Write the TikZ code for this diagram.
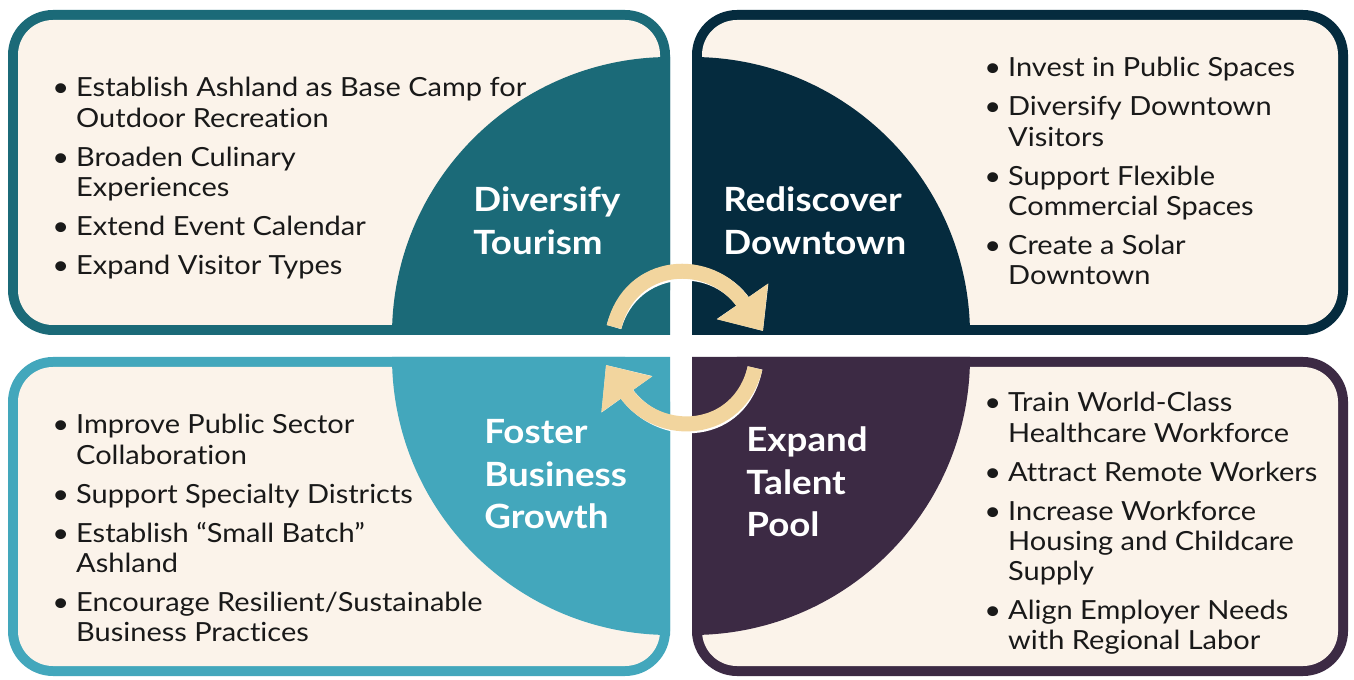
\documentclass[tikz,border=0pt]{standalone}
\usepackage{fontspec}
\setmainfont{Lato}[FakeStretch=1.1, Ligatures=NoCommon]
\usetikzlibrary{arrows.meta}
\definecolor{tourism}{RGB}{27,106,120}
\definecolor{downtown}{RGB}{5,43,62}
\definecolor{business}{RGB}{67,167,188}
\definecolor{talent}{RGB}{60,42,68}
\definecolor{cream}{RGB}{251,243,234}
\definecolor{loopc}{RGB}{242,213,158}
\definecolor{ink}{RGB}{25,25,25}
\newcommand{\ttl}[1]{\begin{tabular}[t]{@{}l@{}}#1\end{tabular}}
\newcommand{\lst}[1]{\begin{tabular}[t]{@{}l@{\hspace{4pt}}l@{}}#1\end{tabular}}
\begin{document}
\begin{tikzpicture}[x=0.02cm,y=0.02cm,
    title/.style = {anchor=base west, inner sep=0, text=white, font={\fontsize{19}{24}\selectfont\bfseries}},
    items/.style = {anchor=base west, inner sep=0, text=ink, font={\fontsize{15}{17.2}\selectfont}},
    loop/.style = {loopc, line width=0.3cm, -{Triangle[width=1.2cm,length=0.72cm]}},
    glow/.style = {white, line width=0.3cm, -{Triangle[width=1.2cm,length=0.72cm]}, xshift=0.05cm, yshift=-0.05cm}]
\useasboundingbox (0,0) rectangle (1354,679);
\fill[white] (0,0) rectangle (1354,679);

\fill[tourism, rounded corners=0.9cm] (8,344) rectangle (670,669);
\fill[cream, rounded corners=0.7cm] (18,354) rectangle (660,659);
\fill[tourism] (670,344) -- (392,344) arc[start angle=180, end angle=90, radius=278] -- cycle;

\fill[downtown, rounded corners=0.9cm] (692,344) rectangle (1348,669);
\fill[cream, rounded corners=0.7cm] (702,354) rectangle (1338,659);
\fill[downtown] (692,344) -- (970,344) arc[start angle=0, end angle=90, radius=278] -- cycle;

\fill[business, rounded corners=0.9cm] (8,3) rectangle (670,322);
\fill[cream, rounded corners=0.7cm] (18,13) rectangle (660,312);
\fill[business] (670,322) -- (392,322) arc[start angle=180, end angle=270, radius=278] -- cycle;

\fill[talent, rounded corners=0.9cm] (692,3) rectangle (1348,322);
\fill[cream, rounded corners=0.7cm] (702,13) rectangle (1338,312);
\fill[talent] (692,322) -- (970,322) arc[start angle=0, end angle=-90, radius=278] -- cycle;

\node[title] (t1) at (473,467) {\ttl{Diversify\\Tourism}};
\node[title] (t2) at (723,467) {\ttl{Rediscover\\Downtown}};
\node[title] (t3) at (484,235) {\ttl{Foster\\Business\\Growth}};
\node[title] (t4) at (746,227) {\ttl{Expand\\Talent\\Pool}};

\node[items] (l1) at (52,582) {\lst{%
    \textbullet & Establish Ashland as Base Camp for\\ & Outdoor Recreation\\[5pt]
    \textbullet & Broaden Culinary\\ & Experiences\\[5pt]
    \textbullet & Extend Event Calendar\\[5pt]
    \textbullet & Expand Visitor Types}};
\node[items] (l2) at (984,602) {\lst{%
    \textbullet & Invest in Public Spaces\\[5pt]
    \textbullet & Diversify Downtown\\ & Visitors\\[5pt]
    \textbullet & Support Flexible\\ & Commercial Spaces\\[5pt]
    \textbullet & Create a Solar\\ & Downtown}};
\node[items] (l3) at (52,245) {\lst{%
    \textbullet & Improve Public Sector\\ & Collaboration\\[5pt]
    \textbullet & Support Specialty Districts\\[5pt]
    \textbullet & Establish “Small Batch”\\ & Ashland\\[5pt]
    \textbullet & Encourage Resilient/Sustainable\\ & Business Practices}};
\node[items] (l4) at (984,267) {\lst{%
    \textbullet & Train World-Class\\ & Healthcare Workforce\\[5pt]
    \textbullet & Attract Remote Workers\\[5pt]
    \textbullet & Increase Workforce\\ & Housing and Childcare\\ & Supply\\[5pt]
    \textbullet & Align Employer Needs\\ & with Regional Labor}};

\coordinate (a1) at (614,352);
\coordinate (b1) at (763,348);
\coordinate (a2) at (755,311);
\coordinate (b2) at (606,314);
\draw[glow] (a1) .. controls (630,419) and (710,424) .. (b1);
\draw[loop] (a1) .. controls (630,419) and (710,424) .. (b1);
\draw[glow] (a2) .. controls (739,244) and (659,239) .. (b2);
\draw[loop] (a2) .. controls (739,244) and (659,239) .. (b2);
\end{tikzpicture}
\end{document}
